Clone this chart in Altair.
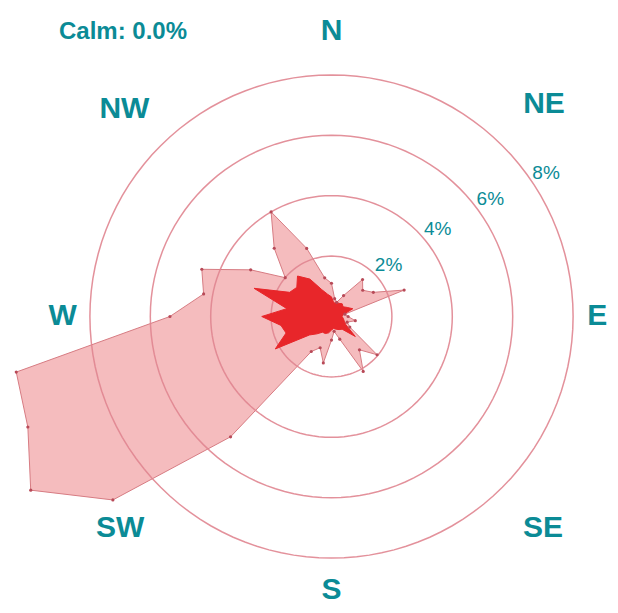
import altair as alt
import pandas as pd

# ---- data ----
directions = list(range(0, 360, 10))
total_pct = [1.1, 0.6, 0.5, 0.8, 1.6, 1.35, 1.6, 2.56, 0.45, 0.55,
             0.8, 0.55, 0.7, 1.97, 1.44, 2.1, 0.8, 0.5, 0.78, 1.56,
             1.1, 1.34, 5.2, 9.45, 11.5, 10.7, 10.6, 5.35, 4.3, 4.57,
             3.09, 2.0, 2.95, 4.0, 2.4, 1.3]
strong_pct = [0.65, 0.45, 0.5, 0.5, 0.55, 0.5, 0.6, 0.75, 0.4, 0.35,
              0.4, 0.45, 0.55, 1.03, 0.55, 0.5, 0.45, 0.4, 0.45, 0.55,
              0.6, 0.6, 0.75, 0.95, 2.15, 1.6, 1.7, 2.31, 1.5, 2.73,
              1.6, 1.5, 1.75, 1.43, 0.95, 0.75]
ring_values = [2, 4, 6, 8]
ring_labels = ["2%", "4%", "6%", "8%"]
compass_labels = ["N", "NE", "E", "SE", "S", "SW", "W", "NW"]
compass_dirs = [0, 45, 90, 135, 180, 225, 270, 315]
compass_radius = [9.45, 9.95, 8.8, 9.9, 9.05, 9.9, 8.9, 9.7]
calm_text = "Calm: 0.0%"

TEAL = "#0b8b96"
FONT = "Liberation Sans"

rose = pd.DataFrame({"dir": directions, "total": total_pct, "strong": strong_pct})
rings = pd.DataFrame({"ring": ring_values, "label": ring_labels})
compass = pd.DataFrame({"label": compass_labels, "dir": compass_dirs, "r": compass_radius})

xs = alt.Scale(domain=[-10.712, 9.222], nice=False, zero=False)
ys = alt.Scale(domain=[-9.553, 10.215], nice=False, zero=False)


def polar(chart, rfield, dfield):
    return chart.transform_calculate(
        px=f"datum.{rfield} * sin(datum.{dfield} * PI / 180)",
        py=f"datum.{rfield} * cos(datum.{dfield} * PI / 180)",
    )


X = alt.X("px:Q", scale=xs, axis=None)
Y = alt.Y("py:Q", scale=ys, axis=None)

base_rose = alt.Chart(rose)

light = polar(base_rose, "total", "dir").mark_line(
    interpolate="linear-closed", fill="#ee8f92", fillOpacity=0.6,
    stroke="#d77c83", strokeWidth=1, clip=False
).encode(x=X, y=Y, order=alt.Order("dir:Q"))

light_pts = polar(base_rose, "total", "dir").mark_point(
    filled=True, size=10, color="#b84a58", opacity=1, clip=False
).encode(x=X, y=Y)

dark = polar(base_rose, "strong", "dir").mark_line(
    interpolate="linear-closed", fill="#e8262a", fillOpacity=1,
    stroke="#e8262a", strokeWidth=1
).encode(x=X, y=Y, order=alt.Order("dir:Q"))

ring_lines = alt.Chart(rings).transform_calculate(
    a="sequence(0, 361, 3)"
).transform_flatten(["a"]).transform_calculate(
    px="datum.ring * sin(datum.a * PI / 180)",
    py="datum.ring * cos(datum.a * PI / 180)",
).mark_line(color="#e08590", strokeWidth=1.5, opacity=0.9).encode(
    x=X, y=Y, order=alt.Order("a:Q"), detail="ring:N"
)

ring_text = alt.Chart(rings).transform_calculate(
    rr="datum.ring + 0.55", ang="45 + 1.4 * datum.ring"
).transform_calculate(
    px="datum.rr * sin(datum.ang * PI / 180)",
    py="datum.rr * cos(datum.ang * PI / 180)",
).mark_text(fontSize=19, font=FONT, color=TEAL).encode(x=X, y=Y, text="label:N")

compass_text = polar(alt.Chart(compass), "r", "dir").mark_text(
    fontSize=30, font=FONT, fontWeight="bold", color=TEAL
).encode(x=X, y=Y, text="label:N")

calm = alt.Chart(pd.DataFrame({"t": [calm_text]})).mark_text(
    fontSize=24, font=FONT, fontWeight="bold", color=TEAL
).encode(x=alt.value(115), y=alt.value(24), text="t:N")

chart = alt.layer(
    light, ring_lines, dark, light_pts, ring_text, compass_text, calm
).properties(
    width=602, height=597, padding=0,
    autosize=alt.AutoSizeParams(type="none"),
    background="white",
).configure_view(stroke=None)

chart.save("out.html", embed_options={"renderer": "svg", "actions": False})
